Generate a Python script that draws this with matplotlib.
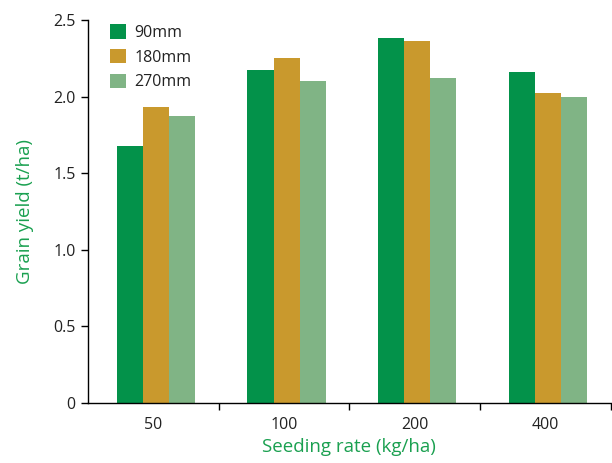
import matplotlib
matplotlib.use("Agg")
import matplotlib.pyplot as plt
import numpy as np

plt.rcParams['font.family'] = ['Open Sans', 'DejaVu Sans']

categories = ["50", "100", "200", "400"]
series_names = ["90mm", "180mm", "270mm"]
yield_90 = [1.68, 2.17, 2.38, 2.16]
yield_180 = [1.93, 2.25, 2.36, 2.02]
yield_270 = [1.87, 2.10, 2.12, 2.00]
colors = ["#03924A", "#C9992D", "#80B485"]
label_color = "#1AA050"

fig = plt.figure(figsize=(6.12, 4.63), dpi=100)
ax = fig.add_axes([0.1438, 0.1296, 0.854, 0.8274])

x = np.arange(len(categories))
w = 0.2
for i, (vals, name) in enumerate(zip([yield_90, yield_180, yield_270], series_names)):
    ax.bar(x + (i - 1) * w + 0.02, vals, width=w, color=colors[i], label=name, linewidth=0)

ax.set_xlim(-0.5, len(categories) - 0.5)
ax.set_ylim(0, 2.5)
ax.set_yticks([0, 0.5, 1.0, 1.5, 2.0, 2.5])
ax.set_yticklabels(["0", "0.5", "1.0", "1.5", "2.0", "2.5"])
ax.set_xticks(x)
ax.set_xticklabels(categories)
ax.tick_params(axis='x', length=0, pad=10, labelsize=11.5, colors='#222222')
ax.set_xticks(np.arange(0.5, len(categories), 1.0), minor=True)
ax.tick_params(axis='x', which='minor', length=5, width=1, direction='out')
ax.tick_params(axis='y', length=5, width=1, direction='out', labelsize=11.5, pad=4,
               labelcolor='#222222')

for s in ['top', 'right']:
    ax.spines[s].set_visible(False)
for s in ['left', 'bottom']:
    ax.spines[s].set_linewidth(1)

ax.set_ylabel("Grain yield (t/ha)", color=label_color, fontsize=13.5, labelpad=14)
ax.set_xlabel("Seeding rate (kg/ha)", color=label_color, fontsize=13.5, labelpad=4)

leg = ax.legend(loc='upper left', frameon=False, fontsize=11.5, handlelength=1.0,
                handleheight=1.0, handletextpad=0.55, labelspacing=0.5,
                bbox_to_anchor=(0.029, 1.005), borderaxespad=0)
for t in leg.get_texts():
    t.set_color('#222222')

fig.savefig("out.png", dpi=100)
